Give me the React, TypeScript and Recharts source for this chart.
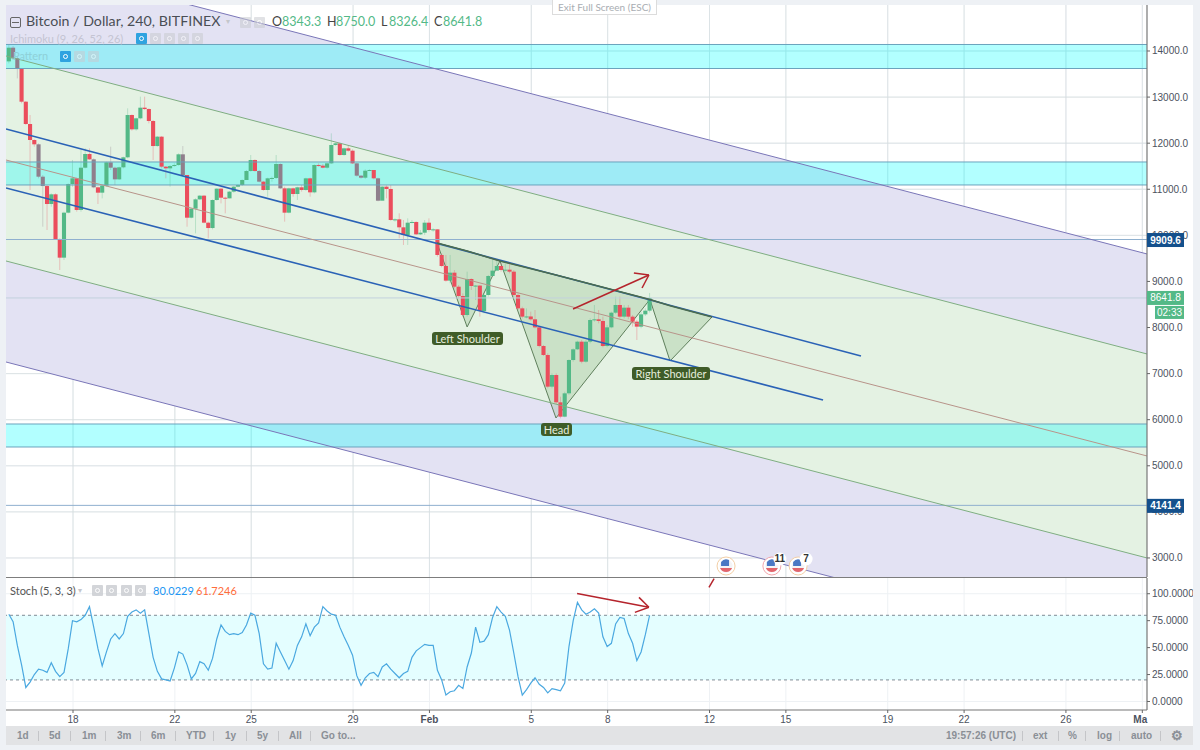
import { Area, Bar, CartesianGrid, ComposedChart, Line, ReferenceArea, ReferenceDot, ReferenceLine, XAxis, YAxis } from 'recharts'

// 4h candles, one every 1/6 of a day. Days counted from Jan 1 (Feb 1 = 32, Mar 1 = 60)
const FIRST_DAY = 15.48
const FIRST_OPEN = 13775

const CLOSES = [
  14072, 13840, 13616, 12900, 12416, 12069, 11975, 11273, 11070, 10680, 10890, 9921, 9516, 10492, 11114, 11237,
  10550, 11468, 11765, 11649, 11042, 10926, 11078, 11584, 11468, 11215, 11476, 11693, 12611, 12300, 12539, 12770,
  12741, 12481, 11938, 12141, 11490, 11454, 11504, 11526, 11758, 11309, 10383, 10579, 10781, 10861, 10275, 10159,
  10767, 11013, 10817, 10803, 10948, 11056, 11092, 11201, 11396, 11635, 11396, 11165, 10984, 11237, 11245, 11548,
  11020, 10492, 11020, 10897, 11042, 10984, 11237, 10933, 11526, 11512, 11468, 11562, 11960, 11996, 11743, 11888,
  11837, 11562, 11295, 11251, 11403, 11418, 11237, 10752, 11056, 11006, 10333, 10347, 10174, 10007, 10275, 10290,
  10022, 10058, 10275, 10116, 10130, 9574, 9335, 9017, 9190, 8886, 8684, 8272, 9053, 8901, 8910, 8359,
  8706, 9118, 9234, 9335, 9248, 9255, 9212, 8706, 8416, 8236, 8240, 8178, 8004, 7599, 7404, 6717,
  6970, 6377, 6066, 6572, 7295, 7527, 7693, 7259, 7693, 8163, 8178, 8142, 7599, 8004, 8322, 8489,
  8236, 8431, 8236, 8127, 8019, 8286, 8366, 8641.8,
]

const HIGHS = [
  14130, 14108, 13877, 13623, 12915, 12611, 12083, 11996, 11309, 11092, 10911, 10911, 9935, 10514, 11128, 11635,
  11251, 11852, 11888, 11888, 11671, 11056, 11092, 11598, 11924, 11490, 11490, 11707, 12756, 12625, 12553, 13009,
  13009, 12756, 12503, 12155, 12155, 11504, 11526, 11562, 11779, 11938, 11309, 10586, 10803, 10875, 10875, 10297,
  10781, 11020, 11034, 10839, 10962, 11070, 11107, 11215, 11418, 11743, 11649, 11418, 11179, 11251, 11273, 11743,
  11562, 11056, 11034, 11034, 11056, 11092, 11251, 11251, 11541, 11562, 11548, 11577, 12213, 12011, 12011, 11902,
  11960, 11866, 11577, 11309, 11432, 11432, 11259, 11251, 11070, 11085, 11092, 10369, 10478, 10333, 10369, 10333,
  10304, 10116, 10333, 10369, 10152, 10130, 9610, 9574, 9574, 9248, 8923, 8742, 9212, 9067, 8923, 8923,
  8742, 9140, 9465, 9465, 9393, 9393, 9393, 9248, 8742, 8453, 8416, 8344, 8380, 8033, 7621, 7440,
  7006, 7006, 6500, 6608, 7310, 7549, 7715, 7730, 7730, 8199, 8489, 8380, 8236, 8055, 8344, 8670,
  8670, 8489, 8489, 8272, 8163, 8344, 8416, 8750,
]

const LOWS = [
  13732, 13804, 13406, 12864, 12394, 10984, 11924, 11237, 10188, 10116, 10622, 9899, 9248, 9465, 10478, 11056,
  10514, 10514, 11454, 11635, 11020, 10680, 10803, 11056, 11418, 11092, 11201, 11454, 11671, 12271, 12271, 12517,
  12720, 12430, 11635, 11924, 11454, 11237, 11056, 11490, 11512, 11273, 10188, 10369, 10044, 10767, 10261, 9935,
  10130, 10752, 10694, 10478, 10803, 10926, 11042, 11070, 11201, 11382, 11382, 11150, 10969, 10839, 11165, 11222,
  11005, 10297, 10478, 10839, 10767, 10948, 10969, 10839, 10911, 11490, 11454, 11447, 11548, 11946, 11729, 11729,
  11815, 11548, 11273, 11230, 11222, 11403, 11215, 10738, 10767, 10803, 10318, 10297, 9935, 9791, 9791, 10260,
  10007, 10007, 10007, 10080, 10080, 9537, 9306, 8995, 8959, 8850, 8633, 8236, 8236, 8814, 8597, 8236,
  8308, 8670, 9212, 9284, 9212, 9212, 9176, 8670, 8380, 8199, 8199, 8149, 7983, 7570, 7382, 6681,
  6681, 6341, 6030, 6052, 6536, 7259, 7512, 7223, 7237, 7657, 8127, 8091, 7570, 7570, 7983, 8293,
  8199, 8199, 8178, 8019, 7729, 7983, 8250, 8326.4,
]

const GREY_CANDLES = [1, 2, 7, 8, 20, 24, 25, 41, 59, 64, 82, 83, 87]

const STOCH_K = [
  81, 74, 52, 34, 13, 18, 25, 30, 29, 27, 36, 28, 23, 27, 49, 75,
  74, 76, 80, 88, 69, 49, 33, 46, 58, 63, 58, 63, 79, 83, 85, 82,
  85, 63, 41, 28, 21, 20, 19, 31, 46, 44, 34, 21, 26, 37, 35, 29,
  40, 58, 71, 65, 62, 63, 62, 64, 71, 82, 80, 63, 35, 30, 31, 54,
  46, 38, 30, 38, 52, 60, 72, 61, 69, 73, 88, 84, 81, 80, 69, 60,
  52, 43, 24, 15, 22, 26, 27, 23, 32, 35, 30, 26, 22, 26, 28, 41,
  47, 50, 53, 52, 52, 29, 20, 6, 9, 10, 15, 12, 32, 45, 69, 55,
  56, 62, 78, 88, 83, 79, 66, 45, 23, 6, 11, 17, 22, 16, 13, 8,
  12, 11, 10, 17, 51, 75, 92, 85, 81, 83, 86, 82, 60, 51, 54, 72,
  78, 77, 63, 54, 38, 46, 62, 80.0229,
]

const DAY_MIN = 15.368
const DAY_MAX = 60.184
const PRICE_MIN = 2587
const PRICE_MAX = 14998
const STOCH_MIN = -7.9
const STOCH_MAX = 114.6

// parallel channel, prices at the left and right edge of the pane
const PURPLE_TOP = [16040, 9596]
const GREEN_TOP = [13892, 7426]
const MIDDLE = [11635, 5213]
const GREEN_BOTTOM = [9444, 3000]
const PURPLE_BOTTOM = [7252, 808]

const BLUE_UPPER = [{ t: DAY_MIN, p: 12308 }, { t: 48.95, p: 7382 }]
const BLUE_LOWER = [{ t: DAY_MIN, p: 11027 }, { t: 47.46, p: 6428 }]

const ZONES = [[13620, 14141], [11093, 11592], [5408, 5907]]
const LEVELS = [9909.6, 4141.4]
const LAST_PRICE = 8641.8

const PATTERN_DAYS = [32.3, 33.48, 34.77, 36.97, 40.66, 41.45, 43.1]
const PATTERN_LOWER = [9834, 8012, 9444, 6037, 8610, 7274, 8229]
const PATTERN_NECK = [9834, 9661, 9444, 9140, 8610, 8474, 8229]

const PRICE_TICKS = [3000, 4000, 5000, 6000, 7000, 8000, 9000, 10000, 11000, 12000, 13000, 14000]
const STOCH_TICKS = [0, 25, 50, 75, 100]
const DAY_TICKS = [18, 22, 25, 29, 32, 36, 39, 43, 46, 50, 53, 57, 60]
const DAY_LABELS = ['18', '22', '25', '29', 'Feb', '5', '8', '12', '15', '19', '22', '26', 'Ma']

const EVENT_DAYS = [43.65, 45.45, 46.48]
const EVENT_COUNTS = ['', '11', '7']
const EVENT_PRICE = 2826

const candles = CLOSES.map((close, i) => ({
  t: FIRST_DAY + i / 6,
  open: i === 0 ? FIRST_OPEN : CLOSES[i - 1],
  close,
  wick: [LOWS[i], HIGHS[i]],
  grey: GREY_CANDLES.includes(i),
}))
const stochRows = STOCH_K.map((k, i) => ({ t: FIRST_DAY + i / 6, k }))
const channelBand = (lo: number[], hi: number[]) => [
  { t: DAY_MIN, band: [lo[0], hi[0]] },
  { t: DAY_MAX, band: [lo[1], hi[1]] },
]
const edgeLine = (vals: number[]) => [{ t: DAY_MIN, p: vals[0] }, { t: DAY_MAX, p: vals[1] }]
const patternRows = PATTERN_DAYS.map((t, i) => ({ t, band: [PATTERN_LOWER[i], PATTERN_NECK[i]], p: PATTERN_NECK[i] }))

const FONT = 'Arial, "Liberation Sans", sans-serif'
const UI_FONT = 'Lato, "Open Sans", sans-serif'
const GREEN = '#53b987'
const RED = '#eb4d5c'
const GREY = '#8f7f8c'
const ARROW = '#b5242c'
const BODY_WIDTH = 4.1

function Candle(props: any) {
  const { x, y, width, height, payload } = props
  if (!payload) return null
  const [low, high] = payload.wick
  const toY = (price: number) => y + ((high - price) / (high - low)) * height
  const top = toY(Math.max(payload.open, payload.close))
  const bottom = toY(Math.min(payload.open, payload.close))
  const fill = payload.grey ? GREY : payload.close >= payload.open ? GREEN : RED
  const mid = x + width / 2
  return (
    <g>
      <line x1={mid} x2={mid} y1={y} y2={y + height} stroke={fill} strokeOpacity={0.35} strokeWidth={0.9} />
      <rect x={mid - BODY_WIDTH / 2} y={top} width={BODY_WIDTH} height={Math.max(bottom - top, 1)} fill={fill} />
    </g>
  )
}

function PriceTick({ x, y, payload }: any) {
  const v = payload.value
  if (LEVELS.includes(v)) {
    return (
      <g>
        <rect x={x} y={y - 6.5} width={37} height={14} fill="#14508c" />
        <text x={x + 18.5} y={y + 4} textAnchor="middle" fontSize={10} fontWeight={600} fill="#fff" fontFamily={FONT}>{v.toFixed(1)}</text>
      </g>
    )
  }
  if (v === LAST_PRICE) {
    return (
      <g>
        <rect x={x} y={y - 7} width={37} height={14} fill={GREEN} />
        <text x={x + 18.5} y={y + 3.5} textAnchor="middle" fontSize={10} fill="#fff" fontFamily={FONT}>{v.toFixed(1)}</text>
        <rect x={x + 8} y={y + 8} width={29} height={13} fill={GREEN} />
        <text x={x + 22.5} y={y + 18.5} textAnchor="middle" fontSize={10} fill="#fff" fontFamily={FONT}>02:33</text>
      </g>
    )
  }
  return (
    <g>
      <line x1={x} x2={x + 3} y1={y} y2={y} stroke="#666" />
      <text x={x + 5} y={y + 3.5} fontSize={10} fill="#4c525e" fontFamily={FONT}>{v.toFixed(1)}</text>
    </g>
  )
}

function StochTick({ x, y, payload }: any) {
  return (
    <g>
      <line x1={x} x2={x + 3} y1={y} y2={y} stroke="#666" />
      <text x={x + 5} y={y + 3.5} fontSize={10} fill="#4c525e" fontFamily={FONT}>{payload.value.toFixed(4)}</text>
    </g>
  )
}

function DayTick({ x, y, payload }: any) {
  const label = DAY_LABELS[DAY_TICKS.indexOf(payload.value)]
  const bold = label === 'Feb' || label === 'Ma'
  return (
    <g>
      <line x1={x} x2={x} y1={y} y2={y + 3} stroke="#666" />
      <text x={label === 'Ma' ? x - 2 : x} y={y + 13} textAnchor="middle" fontSize={10} fontWeight={bold ? 700 : 400} fill="#4c525e" fontFamily={FONT}>{label}</text>
    </g>
  )
}

function EventIcon({ cx, cy, count }: any) {
  const ring = count === '11' ? '#f2a6ac' : '#f3cfa6'
  return (
    <g>
      <circle cx={cx} cy={cy} r={9} fill="#fff" stroke={ring} strokeWidth={1} />
      <circle cx={cx} cy={cy} r={6.5} fill="#f4f4f6" />
      <path d={`M ${cx - 6} ${cy + 2} H ${cx + 6} A 6.5 6.5 0 0 1 ${cx - 6} ${cy + 2} Z`} fill="#e2656c" />
      <path d={`M ${cx - 5} ${cy} V ${cy - 4} A 6.5 6.5 0 0 1 ${cx + 3} ${cy - 6} V ${cy} Z`} fill="#4a78c4" />
      {count && (
        <g>
          <circle cx={cx + 8} cy={cy - 7} r={6.5} fill="#fff" />
          <text x={cx + 8} y={cy - 3.5} textAnchor="middle" fontSize={10} fontWeight={600} fill="#333" fontFamily={FONT}>{count}</text>
        </g>
      )}
    </g>
  )
}

function Label({ x, y, size = 10, color = '#8a8f96', weight = 400, family = FONT, children }: any) {
  return (
    <div style={{ position: 'absolute', left: x, top: y, fontSize: size, color, fontWeight: weight, fontFamily: family, lineHeight: 1, whiteSpace: 'nowrap' }}>
      {children}
    </div>
  )
}

function PatternTag({ x, y, width, children }: any) {
  return (
    <div style={{ position: 'absolute', left: x, top: y, width, height: 13, background: '#3f5c28', borderRadius: 3, color: '#e6eede', fontSize: 11, fontFamily: UI_FONT, lineHeight: '13px', textAlign: 'center', whiteSpace: 'nowrap' }}>
      {children}
    </div>
  )
}

function Square({ x, y, active = false, opacity = 0.55 }: any) {
  return (
    <div style={{ position: 'absolute', left: x, top: y, width: 11, height: 11, background: active ? '#2fa3e0' : '#c9cbd0', opacity: active ? 1 : opacity, borderRadius: 1 }}>
      <div style={{ position: 'absolute', left: 3, top: 3, width: 3, height: 3, border: '1px solid #fff', borderRadius: '50%' }} />
    </div>
  )
}

function Sep({ x }: { x: number }) {
  return <div style={{ position: 'absolute', left: x, top: 731, width: 1, height: 10, background: '#c4c5c8' }} />
}

export default function App() {
  return (
    <div style={{ position: 'absolute', left: 0, top: 0, width: 1200, height: 750, background: '#eef1f5', overflow: 'hidden' }}>
      <div style={{ position: 'absolute', left: 6, top: 5, width: 1187, height: 721, background: '#fff' }} />

      <div style={{ position: 'absolute', left: 0, top: 0 }}>
        <ComposedChart width={1193} height={578} data={candles} margin={{ top: 5, right: 0, bottom: 1, left: 6 }}>
          <CartesianGrid stroke="#dde2e8" strokeOpacity={0.7} horizontalValues={PRICE_TICKS} verticalValues={DAY_TICKS} />
          <XAxis dataKey="t" type="number" domain={[DAY_MIN, DAY_MAX]} allowDataOverflow hide />
          <YAxis
            orientation="right"
            width={46}
            domain={[PRICE_MIN, PRICE_MAX]}
            allowDataOverflow
            ticks={[...PRICE_TICKS, ...LEVELS, LAST_PRICE]}
            interval={0}
            tick={PriceTick}
            tickLine={false}
            tickSize={0}
            tickMargin={0}
            axisLine={{ stroke: '#777', strokeWidth: 1.2 }}
          />

          <Area data={channelBand(PURPLE_BOTTOM, PURPLE_TOP)} dataKey="band" type="linear" fill="#e3e2f3" fillOpacity={1} stroke="none" isAnimationActive={false} />
          <Area data={channelBand(GREEN_BOTTOM, GREEN_TOP)} dataKey="band" type="linear" fill="#e4f2e3" fillOpacity={1} stroke="none" isAnimationActive={false} />
          <CartesianGrid stroke="#d6dde0" strokeOpacity={0.6} horizontalValues={PRICE_TICKS} verticalValues={DAY_TICKS} />

          {ZONES.map(([lo, hi]) => (
            <ReferenceArea key={lo} y1={lo} y2={hi} fill="#00ffff" fillOpacity={0.3} stroke="none" />
          ))}
          {ZONES.flat().map((v) => (
            <ReferenceLine key={v} y={v} stroke="#6ba3bd" strokeWidth={1} />
          ))}
          {LEVELS.map((v) => (
            <ReferenceLine key={v} y={v} stroke="#8fb0cf" strokeWidth={1} />
          ))}
          <ReferenceLine y={LAST_PRICE} stroke="#c2d1dd" strokeWidth={1} />

          <Line data={edgeLine(PURPLE_TOP)} dataKey="p" stroke="#7a76b8" strokeWidth={1} dot={false} isAnimationActive={false} />
          <Line data={edgeLine(PURPLE_BOTTOM)} dataKey="p" stroke="#7a76b8" strokeWidth={1} dot={false} isAnimationActive={false} />
          <Line data={edgeLine(GREEN_TOP)} dataKey="p" stroke="#7fae82" strokeWidth={1} dot={false} isAnimationActive={false} />
          <Line data={edgeLine(GREEN_BOTTOM)} dataKey="p" stroke="#7fae82" strokeWidth={1} dot={false} isAnimationActive={false} />
          <Line data={edgeLine(MIDDLE)} dataKey="p" stroke="#b8948a" strokeWidth={1} dot={false} isAnimationActive={false} />

          <Bar dataKey="wick" barSize={3.4} shape={Candle} isAnimationActive={false} />

          <Area data={patternRows} dataKey="band" type="linear" fill="#64a05a" fillOpacity={0.2} stroke="#5f7f5c" strokeWidth={1} isAnimationActive={false} />

          <Line data={BLUE_UPPER} dataKey="p" stroke="#2a62b6" strokeWidth={1.6} dot={false} isAnimationActive={false} />
          <Line data={BLUE_LOWER} dataKey="p" stroke="#2a62b6" strokeWidth={1.6} dot={false} isAnimationActive={false} />
          <Line data={patternRows} dataKey="p" stroke="#4a6b50" strokeWidth={1.5} dot={false} isAnimationActive={false} />

          <ReferenceLine segment={[{ x: 37.64, y: 8402 }, { x: 40.62, y: 9140 }]} stroke={ARROW} strokeWidth={1.5} />
          <ReferenceLine segment={[{ x: 40.03, y: 9183 }, { x: 40.62, y: 9140 }]} stroke={ARROW} strokeWidth={1.5} />
          <ReferenceLine segment={[{ x: 40.35, y: 8858 }, { x: 40.62, y: 9140 }]} stroke={ARROW} strokeWidth={1.5} />

          {EVENT_DAYS.map((d, i) => (
            <ReferenceDot key={d} x={d} y={EVENT_PRICE} r={9} shape={(p: any) => <EventIcon cx={p.cx} cy={p.cy} count={EVENT_COUNTS[i]} />} />
          ))}
        </ComposedChart>
      </div>

      <div style={{ position: 'absolute', left: 0, top: 577 }}>
        <ComposedChart width={1193} height={149} data={stochRows} margin={{ top: 1, right: 0, bottom: 0, left: 6 }}>
          <CartesianGrid stroke="#eef1f4" horizontalValues={STOCH_TICKS} verticalValues={DAY_TICKS} />
          <XAxis
            dataKey="t"
            type="number"
            domain={[DAY_MIN, DAY_MAX]}
            allowDataOverflow
            ticks={DAY_TICKS}
            interval={0}
            height={16}
            tick={DayTick}
            tickLine={false}
            tickSize={0}
            tickMargin={0}
            axisLine={{ stroke: '#777', strokeWidth: 1.2 }}
          />
          <YAxis
            orientation="right"
            width={46}
            domain={[STOCH_MIN, STOCH_MAX]}
            allowDataOverflow
            ticks={STOCH_TICKS}
            interval={0}
            tick={StochTick}
            tickLine={false}
            tickSize={0}
            tickMargin={0}
            axisLine={{ stroke: '#777', strokeWidth: 1.2 }}
          />
          <ReferenceArea y1={20} y2={80} fill="#e4feff" fillOpacity={1} stroke="none" />
          <ReferenceLine y={80} stroke="#7f8c96" strokeDasharray="3 3" />
          <ReferenceLine y={20} stroke="#7f8c96" strokeDasharray="3 3" />
          <Line dataKey="k" type="linear" stroke="#4aa8e0" strokeWidth={1.2} dot={false} isAnimationActive={false} />
          <ReferenceLine segment={[{ x: 37.8, y: 100.3 }, { x: 40.62, y: 87.4 }]} stroke={ARROW} strokeWidth={1.5} />
          <ReferenceLine segment={[{ x: 40.23, y: 96.6 }, { x: 40.62, y: 87.4 }]} stroke={ARROW} strokeWidth={1.5} />
          <ReferenceLine segment={[{ x: 40.07, y: 82.7 }, { x: 40.62, y: 87.4 }]} stroke={ARROW} strokeWidth={1.5} />
          <ReferenceLine segment={[{ x: 42.98, y: 105.8 }, { x: 43.18, y: 114 }]} stroke={ARROW} strokeWidth={1.5} />
        </ComposedChart>
      </div>

      <div style={{ position: 'absolute', left: 6, top: 576.5, width: 1141, height: 1.5, background: '#7d7d7d' }} />

      {/* header */}
      <div style={{ position: 'absolute', left: 10, top: 17, width: 9, height: 9, border: '1px solid #666', borderRadius: 2 }}>
        <div style={{ position: 'absolute', left: 1, top: 4, width: 7, height: 1, background: '#666' }} />
      </div>
      <Label x={26} y={14} size={14.2} color="#4a4e55" family={UI_FONT}>Bitcoin / Dollar, 240, BITFINEX</Label>
      <Label x={226} y={18} size={8} color="#c4c6cb">▾</Label>
      <Square x={240} y={17} />
      <Square x={254} y={17} />
      <Label x={272} y={16} size={12.5} color="#444" family={UI_FONT}>O</Label>
      <Label x={282} y={16} size={12.5} color={GREEN} family={UI_FONT}>8343.3</Label>
      <Label x={327} y={16} size={12.5} color="#444" family={UI_FONT}>H</Label>
      <Label x={336} y={16} size={12.5} color={GREEN} family={UI_FONT}>8750.0</Label>
      <Label x={381} y={16} size={12.5} color="#444" family={UI_FONT}>L</Label>
      <Label x={389} y={16} size={12.5} color={GREEN} family={UI_FONT}>8326.4</Label>
      <Label x={434} y={16} size={12.5} color="#444" family={UI_FONT}>C</Label>
      <Label x={443} y={16} size={12.5} color={GREEN} family={UI_FONT}>8641.8</Label>

      <div style={{ position: 'absolute', left: 552, top: -1, width: 103, height: 14, background: '#fff', border: '1px solid #dcdcdc', textAlign: 'center', fontSize: 10, lineHeight: '14px', color: '#a9adb2', fontFamily: UI_FONT }}>
        Exit Full Screen (ESC)
      </div>

      <Label x={10} y={33} size={11} color="#c4c4d2" family={UI_FONT}>Ichimoku (9, 26, 52, 26)</Label>
      <Square x={136} y={33} active />
      <Square x={150} y={33} />
      <Square x={164} y={33} />
      <Square x={178} y={33} />
      <Square x={192} y={33} />
      <Label x={13} y={50} size={11} color="#8ed0d8" family={UI_FONT}>Pattern</Label>
      <Square x={60} y={51} active />
      <Square x={74} y={51} />
      <Square x={88} y={51} />

      <Label x={10} y={585} size={11} color="#555" family={UI_FONT}>Stoch (5, 3, 3)</Label>
      <Label x={78} y={587} size={8} color="#c4c6cb">▾</Label>
      <Square x={92} y={585} opacity={0.8} />
      <Square x={106} y={585} opacity={0.8} />
      <Square x={121} y={585} opacity={0.8} />
      <Square x={135} y={585} opacity={0.8} />
      <Label x={153} y={585} size={11} color="#2196f3" family={UI_FONT}>80.0229</Label>
      <Label x={196} y={585} size={11} color="#ff6d3b" family={UI_FONT}>61.7246</Label>

      {/* pattern names */}
      <PatternTag x={432} y={332} width={71}>Left Shoulder</PatternTag>
      <PatternTag x={541} y={423} width={31}>Head</PatternTag>
      <PatternTag x={632} y={367} width={78}>Right Shoulder</PatternTag>

      {/* bottom toolbar */}
      <div style={{ position: 'absolute', left: 6, top: 726, width: 1187, height: 19, background: '#e2e3e5' }} />
      <Label x={17} y={731} weight={600}>1d</Label>
      <Sep x={38} />
      <Label x={49} y={731} weight={600}>5d</Label>
      <Sep x={70} />
      <Label x={82} y={731} weight={600}>1m</Label>
      <Sep x={105} />
      <Label x={117} y={731} weight={600}>3m</Label>
      <Sep x={140} />
      <Label x={151} y={731} weight={600}>6m</Label>
      <Sep x={175} />
      <Label x={186} y={731} weight={600}>YTD</Label>
      <Sep x={213} />
      <Label x={225} y={731} weight={600}>1y</Label>
      <Sep x={246} />
      <Label x={257} y={731} weight={600}>5y</Label>
      <Sep x={278} />
      <Label x={289} y={731} weight={600}>All</Label>
      <Sep x={310} />
      <Label x={321} y={731} weight={600}>Go to...</Label>
      <Label x={946} y={731} weight={600}>19:57:26 (UTC)</Label>
      <Sep x={1022} />
      <Label x={1033} y={731} weight={600}>ext</Label>
      <Sep x={1058} />
      <Label x={1068} y={731} weight={600}>%</Label>
      <Sep x={1085} />
      <Label x={1097} y={731} weight={600}>log</Label>
      <Sep x={1119} />
      <Label x={1131} y={731} weight={600}>auto</Label>
      <Sep x={1160} />
      <Label x={1171} y={729} size={13} weight={600}>⚙</Label>
    </div>
  )
}
